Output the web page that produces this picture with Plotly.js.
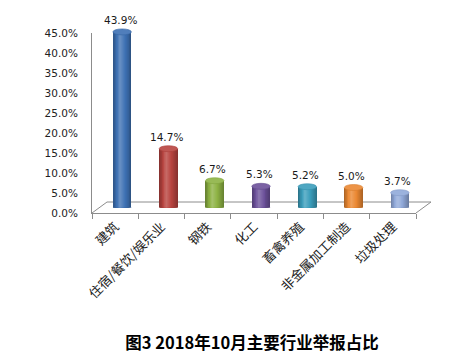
<!DOCTYPE html>
<html><head><meta charset="utf-8">
<script src="https://cdn.plot.ly/plotly-3.0.1.min.js"></script>
<style>html,body{margin:0;padding:0;background:#fff}#chart{width:472px;height:358px}</style>
</head><body><div id="chart"></div>
<script>
const categories = ['建筑','住宿/餐饮/娱乐业','钢铁','化工','畜禽养殖','非金属加工制造','垃圾处理'];
const values = [43.9, 14.7, 6.7, 5.3, 5.2, 5.0, 3.7];
const barColors = ['#3d70b3','#b8433f','#8db243','#6c519a','#3a9dbb','#eb8832','#90a9d9'];
const yTicks = [0,5,10,15,20,25,30,35,40,45];
const titleText = '图3 2018年10月主要行业举报占比';

function hex2rgb(h){h=h.replace('#','');return [parseInt(h.substr(0,2),16),parseInt(h.substr(2,2),16),parseInt(h.substr(4,2),16)];}
function shade(h,k){const c=hex2rgb(h);let r;if(k<1){r=c.map(v=>Math.round(v*k));}else{const t=k-1;r=c.map(v=>Math.round(v+(255-v)*t));}return 'rgb('+r.join(',')+')';}

// plot area geometry (pixels)
const L=92, R=431, T=22, B=213;
const W=R-L, H=B-T;
const frontW=324, frontH=180;
const depthX=15, depthY=11;
const dx=7, dy=5.5;
const idx = categories.map((_,i)=>i);
const bw = 0.4, N = 12, hl = 0.38;

const traces = [];
// nested bars: from full width (dark) to narrow highlight (light) -> smooth cylinder shading
for(let j=0;j<N;j++){
  const s = 1 - j/N;
  const a = hl - hl*s, b = hl + (1-hl)*s;
  const k = 0.74 + 0.46*(j/(N-1));
  traces.push({type:'bar',x:idx,y:values,xaxis:'x2',yaxis:'y2',
    width:bw*(b-a), offset:-bw/2+bw*a,
    marker:{color:barColors.map(c=>shade(c,k)),line:{width:0}},
    hoverinfo:'skip',showlegend:false});
}
// invisible trace to hold the category axis
traces.push({type:'bar',x:categories,y:values.map(()=>0),xaxis:'x',yaxis:'y',marker:{color:'rgba(0,0,0,0)'},showlegend:false,hoverinfo:'skip'});

const ry = 3*45/frontH;
const shapes = [];
// floor (left, back, right edges)
shapes.push({type:'path',xref:'paper',yref:'paper',layer:'below',
  path:`M 0 0 L ${depthX/W} ${depthY/H} L 1 ${depthY/H} L ${frontW/W} 0`,
  line:{color:'#8c8c8c',width:1},fillcolor:'rgba(0,0,0,0)'});
values.forEach((v,i)=>{
  shapes.push({type:'circle',xref:'x2',yref:'y2',layer:'below',x0:i-bw/2,x1:i+bw/2,y0:-ry,y1:ry,
    fillcolor:shade(barColors[i],0.88),line:{width:0}});
  shapes.push({type:'circle',xref:'x2',yref:'y2',layer:'above',x0:i-bw/2,x1:i+bw/2,y0:v-ry,y1:v+ry,
    fillcolor:shade(barColors[i],1.1),line:{color:shade(barColors[i],0.92),width:0.6}});
});

const annotations = values.map((v,i)=>({xref:'x2',yref:'y2',x:i,y:v+ry,text:v.toFixed(1)+'%',
  showarrow:false,yanchor:'bottom',yshift:1,xshift:-2,font:{family:'DejaVu Sans',size:10.5,color:'#1a1a1a'}}));

const layout = {
  width:472,height:358,paper_bgcolor:'#fff',plot_bgcolor:'rgba(0,0,0,0)',
  margin:{l:L,r:472-R,t:T,b:358-B},
  barmode:'overlay',bargap:0,showlegend:false,
  title:{text:titleText,xref:'container',yref:'container',x:0.534,y:1-343/358,xanchor:'center',yanchor:'middle',
    font:{family:'Noto Sans CJK SC',size:16.5,color:'#000',weight:'bold'}},
  xaxis:{domain:[0,frontW/W],type:'category',range:[-0.5,6.5],showline:true,linecolor:'#8c8c8c',linewidth:1,
    ticks:'outside',ticklen:5,tickcolor:'#8c8c8c',tickson:'boundaries',tickangle:-45,showgrid:false,zeroline:false,
    tickfont:{family:'Noto Sans CJK SC',size:13,color:'#222'},fixedrange:true},
  yaxis:{domain:[0,frontH/H],range:[0,45],tickvals:yTicks,ticktext:yTicks.map(v=>v.toFixed(1)+'%'),
    showline:true,linecolor:'#8c8c8c',linewidth:1,ticks:'',showgrid:false,zeroline:false,ticklabelstandoff:11,
    tickfont:{family:'DejaVu Sans',size:10.5,color:'#222'},fixedrange:true},
  xaxis2:{domain:[dx/W,(dx+frontW)/W],range:[-0.5,6.5],visible:false,anchor:'y2',fixedrange:true},
  yaxis2:{domain:[dy/H,(dy+frontH)/H],range:[0,45],visible:false,anchor:'x2',fixedrange:true},
  shapes:shapes,annotations:annotations
};
Plotly.newPlot('chart',traces,layout,{displayModeBar:false,staticPlot:true});
</script></body></html>
